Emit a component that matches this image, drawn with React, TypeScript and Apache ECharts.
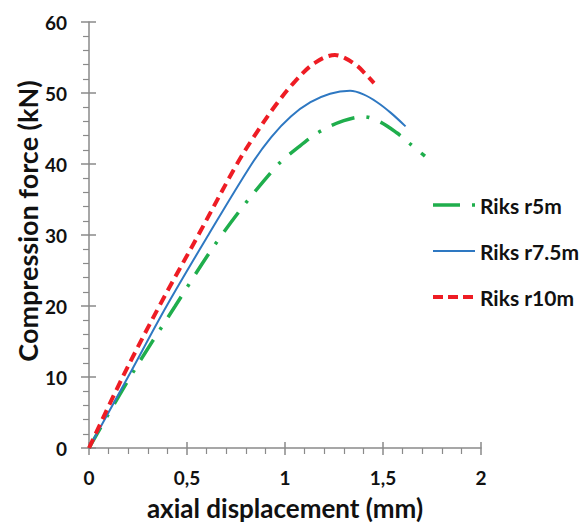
import React, { useEffect, useRef } from "react";
import * as echarts from "echarts";

const seriesNames = ["Riks r5m", "Riks r7.5m", "Riks r10m"];
const seriesColors = ["#1fae4c", "#2e78c2", "#ee1c24"];

const r5X = [0, 0.21, 0.44, 0.677, 0.95, 1.07, 1.18, 1.3, 1.4, 1.48, 1.57, 1.64, 1.714];
const r5Y = [0, 10, 20, 30, 39.5, 42.4, 44.6, 46.1, 46.66, 46.0, 44.4, 42.8, 41.1];

const r75X = [0, 0.199, 0.396, 0.609, 0.83, 0.93, 1.03, 1.13, 1.23, 1.332, 1.4, 1.47, 1.54, 1.615];
const r75Y = [0, 10, 20, 30, 40, 43.8, 46.7, 48.7, 49.9, 50.3, 49.8, 48.7, 47.2, 45.3];

const r10X = [0, 0.172, 0.359, 0.558, 0.755, 0.85, 0.95, 1.05, 1.15, 1.255, 1.3, 1.365, 1.41, 1.454];
const r10Y = [0, 10, 20, 30, 40, 44.2, 48.2, 51.6, 54.2, 55.35, 55.0, 53.9, 52.7, 51.4];

const xTicks = [0, 0.5, 1, 1.5, 2];
const yTicks = [0, 10, 20, 30, 40, 50, 60];

const xTitle = "axial displacement (mm)";
const yTitle = "Compression force (kN)";

const FONT = "Lato";
const AXIS_COLOR = "#8a8a8a";

function pairs(xs: number[], ys: number[]) {
  return xs.map((x, i) => [x, ys[i]]);
}

export default function App() {
  const ref = useRef<HTMLDivElement>(null);
  useEffect(() => {
    document.body.style.margin = "0";
    if (!ref.current) return;
    const chart = echarts.init(ref.current, null, { renderer: "svg" });
    const gridL = 89, gridR = 102, gridT = 22, gridB = 79;
    const xMin = xTicks[0], xMax = xTicks[xTicks.length - 1];
    const yMin = yTicks[0], yMax = yTicks[yTicks.length - 1];
    const xInt = xTicks[1] - xTicks[0];
    const yInt = yTicks[1] - yTicks[0];
    const labelStyle = { color: "#111", fontFamily: FONT, fontWeight: "bold" as const, fontSize: 19 };

    const lineStyles: any[] = [
      { color: seriesColors[0], width: 3.5, type: [24, 12, 3, 12], cap: "butt" },
      { color: seriesColors[1], width: 2, type: "solid" },
      { color: seriesColors[2], width: 4, type: [10, 6], cap: "butt" },
    ];
    const datas = [pairs(r5X, r5Y), pairs(r75X, r75Y), pairs(r10X, r10Y)];

    const legendX = 433, legendW = 42, legendY0 = 205, legendDy = 46;
    const legendDash: any[] = [[27, 12, 3, 100], null, [10, 5]];
    const legendGraphics: any[] = [];
    seriesNames.forEach((name, i) => {
      const y = legendY0 + i * legendDy;
      legendGraphics.push({
        type: "line",
        shape: { x1: legendX, y1: y, x2: legendX + legendW, y2: y },
        style: {
          stroke: seriesColors[i],
          lineWidth: lineStyles[i].width,
          lineDash: legendDash[i] || undefined,
        },
      });
      legendGraphics.push({
        type: "text",
        x: legendX + legendW + 5,
        y,
        style: {
          text: name,
          fill: "#111",
          font: `bold 21px ${FONT}`,
          textAlign: "left",
          textVerticalAlign: "middle",
        },
      });
    });

    chart.setOption({
      animation: false,
      backgroundColor: "#fff",
      grid: { left: gridL, right: gridR, top: gridT, bottom: gridB, containLabel: false },
      xAxis: [
        {
          type: "value",
          min: xMin,
          max: xMax,
          interval: xInt,
          position: "bottom",
          axisLine: { show: true, lineStyle: { color: AXIS_COLOR, width: 1.5 } },
          axisTick: { show: true, inside: false, length: 7, lineStyle: { color: AXIS_COLOR, width: 1.5 } },
          minorTick: { show: true, splitNumber: 5, length: 6, lineStyle: { color: AXIS_COLOR, width: 1.2 } },
          splitLine: { show: false },
          minorSplitLine: { show: false },
          axisLabel: {
            ...labelStyle,
            margin: 20,
            formatter: (v: number) => String(v).replace(".", ","),
          },
        },
        {
          type: "value",
          min: xMin,
          max: xMax,
          interval: xInt,
          position: "bottom",
          axisLine: { show: false },
          axisTick: { show: true, inside: true, length: 6, lineStyle: { color: AXIS_COLOR, width: 1.5 } },
          axisLabel: { show: false },
          splitLine: { show: false },
        },
      ],
      yAxis: [
        {
          type: "value",
          min: yMin,
          max: yMax,
          interval: yInt,
          position: "left",
          axisLine: { show: true, lineStyle: { color: AXIS_COLOR, width: 1.5 } },
          axisTick: { show: true, inside: false, length: 8, lineStyle: { color: AXIS_COLOR, width: 1.5 } },
          minorTick: { show: true, splitNumber: 5, length: 6, lineStyle: { color: AXIS_COLOR, width: 1.2 } },
          splitLine: { show: false },
          minorSplitLine: { show: false },
          axisLabel: { ...labelStyle, margin: 22 },
        },
        {
          type: "value",
          min: yMin,
          max: yMax,
          interval: yInt,
          position: "left",
          axisLine: { show: false },
          axisTick: { show: true, inside: true, length: 7, lineStyle: { color: AXIS_COLOR, width: 1.5 } },
          axisLabel: { show: false },
          splitLine: { show: false },
        },
      ],
      series: seriesNames.map((name, i) => ({
        name,
        type: "line",
        xAxisIndex: 0,
        yAxisIndex: 0,
        data: datas[i],
        smooth: 0.35,
        showSymbol: false,
        symbol: "none",
        lineStyle: lineStyles[i],
        z: 3 + i,
      })),
      graphic: [
        {
          type: "text",
          x: 27,
          y: 221,
          rotation: Math.PI / 2,
          style: {
            text: yTitle,
            fill: "#111",
            font: `bold 27px ${FONT}`,
            textAlign: "center",
            textVerticalAlign: "middle",
          },
        },
        {
          type: "text",
          x: 285,
          y: 508,
          style: {
            text: xTitle,
            fill: "#111",
            font: `bold 26px ${FONT}`,
            textAlign: "center",
            textVerticalAlign: "middle",
          },
        },
        ...legendGraphics,
      ],
    });
    return () => chart.dispose();
  }, []);
  return <div ref={ref} style={{ width: 583, height: 527 }} />;
}
